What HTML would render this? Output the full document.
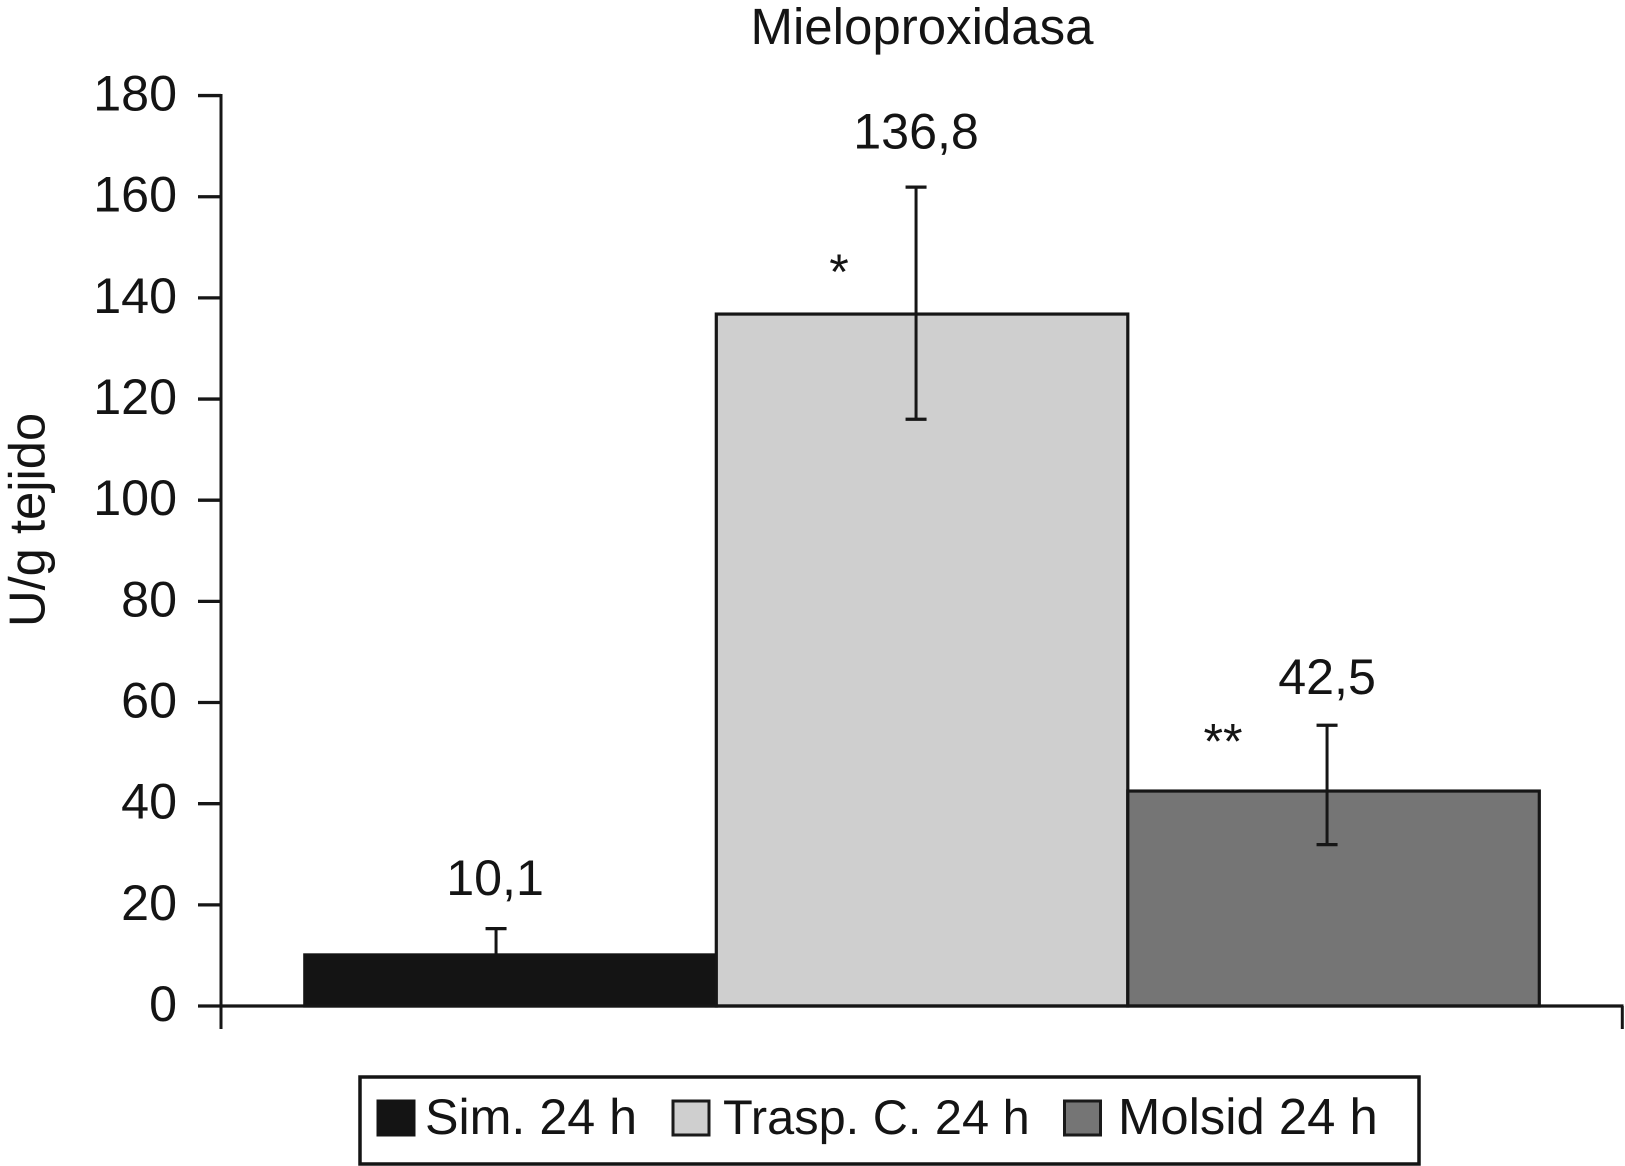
<!DOCTYPE html>
<html lang="es">
<head>
<meta charset="utf-8">
<title>Mieloproxidasa</title>
<style>
html,body{margin:0;padding:0;background:#fff;width:1625px;height:1166px;overflow:hidden}
svg{display:block}
text{font-family:"Liberation Sans",sans-serif;font-size:50.2px;fill:#141414;text-rendering:geometricPrecision}
</style>
</head>
<body>
<svg id="chart" xmlns="http://www.w3.org/2000/svg" width="1625" height="1166" viewBox="0 0 1625 1166">
  <text x="922" y="44" text-anchor="middle" style="font-size:51px">Mieloproxidasa</text>
  <text transform="translate(44.5,627) rotate(-90)" style="font-size:50.7px">U/g tejido</text>
  <g id="plot"></g>
  <g>
    <rect x="360" y="1077" width="1059" height="87" fill="#fff" stroke="#141414" stroke-width="3.5"/>
    <rect x="377" y="1100" width="38" height="36" fill="#141414" stroke="#141414" stroke-width="1"/>
    <text x="425" y="1134" style="font-size:50.2px">Sim. 24 h</text>
    <rect x="673" y="1101" width="36" height="34" fill="#cfcfcf" stroke="#1a1a1a" stroke-width="3"/>
    <text x="723" y="1134" style="font-size:48.7px">Trasp. C. 24 h</text>
    <rect x="1064.5" y="1101" width="36" height="34" fill="#757575" stroke="#1a1a1a" stroke-width="3"/>
    <text x="1118" y="1134" style="font-size:50.8px">Molsid 24 h</text>
  </g>
</svg>
<script>
const categories = ['Sim. 24 h', 'Trasp. C. 24 h', 'Molsid 24 h'];
const values = [10.1, 136.8, 42.5];
const errorHigh = [15.3, 161.9, 55.5];
const errorLow = [4.9, 116, 31.9];
const valueLabels = ['10,1', '136,8', '42,5'];
const significance = ['', '*', '**'];
const yTicks = [0, 20, 40, 60, 80, 100, 120, 140, 160, 180];

const NS = 'http://www.w3.org/2000/svg';
const plot = document.getElementById('plot');
const fills = ['#141414', '#cfcfcf', '#757575'];
const INK = '#161616';

function y(v) { return 1006 - v * 5.058; }
function barLeft(i) { return 304.8 + i * 411.5; }
function barWidth() { return 411.5; }
function errorX(i) { return barLeft(i) + barWidth() / 2 - (i === 0 ? 14.5 : i === 1 ? 6 : 6.5); }

function make(tag, attrs) {
  const el = document.createElementNS(NS, tag);
  Object.keys(attrs).forEach(function (k) { el.setAttribute(k, attrs[k]); });
  plot.appendChild(el);
  return el;
}
function line(x1, y1, x2, y2, w, color) {
  return make('line', { x1: x1, y1: y1, x2: x2, y2: y2, stroke: color || INK, 'stroke-width': w });
}

categories.forEach(function (cat, i) {
  const bar = make('rect', {
    x: barLeft(i), y: y(values[i]), width: barWidth(), height: y(0) - y(values[i]),
    fill: fills[i], stroke: i === 0 ? fills[0] : INK, 'stroke-width': 3.2
  });
  
  
});

yTicks.forEach(function (t) {
  const tick = line(198, y(t), 221, y(t), 3.3);
  
  
  const label = make('text', { x: 177, y: y(t) + 15, 'text-anchor': 'end' });
  label.textContent = String(t);
  
  
});

const yAxis = line(221, y(180) - 1.5, 221, 1029, 3);


const xAxis = line(221, y(0), 1623.5, y(0), 3.3);


const xEndTick = line(1622.3, y(0), 1622.3, 1029, 3);



categories.forEach(function (cat, i) {
  const x = errorX(i);
  const stemColor = i === 0 ? fills[0] : INK;
  const stem = line(x, y(errorHigh[i]), x, y(errorLow[i]), 3, stemColor);
  
  
  const capTop = line(x - 10.5, y(errorHigh[i]), x + 10.5, y(errorHigh[i]), 3.3, stemColor);
  
  
  const capBottom = line(x - 10.5, y(errorLow[i]), x + 10.5, y(errorLow[i]), 3.3, stemColor);
  
  

  const label = make('text', { x: x - (i === 0 ? 1 : 0), y: y(errorHigh[i]) - (i === 1 ? 38.5 : i === 0 ? 33.7 : 31.5), 'text-anchor': 'middle' });
  label.textContent = valueLabels[i];
  
  

  if (significance[i]) {
    const mark = make('text', { x: x - (i === 1 ? 77 : 104), y: y(values[i]) - (i === 1 ? 25 : 32.5), 'text-anchor': 'middle' });
    mark.textContent = significance[i];
    
    
  }
});
</script>
</body>
</html>
